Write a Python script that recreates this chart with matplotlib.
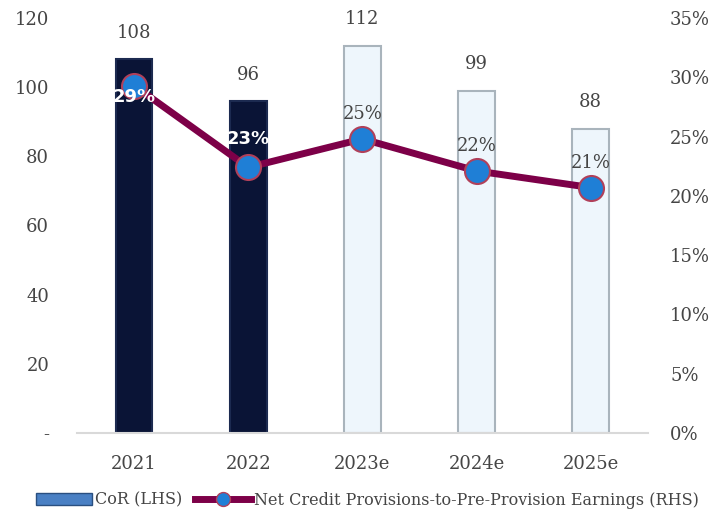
import numpy as np
import matplotlib.pyplot as plt
from matplotlib.patches import Patch
from matplotlib.lines import Line2D

years = ['2021', '2022', '2023e', '2024e', '2025e']
cor = [108, 96, 112, 99, 88]
provisions = [29.3, 22.4, 24.8, 22.1, 20.7]
prov_labels = ['29%', '23%', '25%', '22%', '21%']

plt.rcParams['font.family'] = ['DejaVu Serif']
grey = '#454545'
maroon = '#7d0048'

fig = plt.figure(figsize=(7.23, 5.14), dpi=100)
ax = fig.add_axes([0.1065, 0.1576, 0.7895, 0.8074])
ax2 = ax.twinx()

xs = np.arange(len(years))
bar_colors = ['#0a1436', '#0a1436', '#eef6fc', '#eef6fc', '#eef6fc']
edge_colors = ['#1c2a50', '#1c2a50', '#a9b4bc', '#a9b4bc', '#a9b4bc']
ax.bar(xs, cor, 0.32, color=bar_colors, edgecolor=edge_colors, linewidth=1.5)
for x, v in zip(xs, cor):
    ax.text(x, v + 5, str(v), ha='center', va='bottom', fontsize=13, color=grey)

ax.set_xlim(-0.5, 4.5)
ax.set_ylim(0, 120)
ax.set_yticks(range(0, 121, 20))
ax.set_yticklabels(['-'] + [str(v) for v in range(20, 121, 20)])
ax.set_xticks(xs)
ax.set_xticklabels(years)
ax.tick_params(axis='both', length=0, labelsize=13, colors=grey)
ax.tick_params(axis='x', pad=16)
ax.tick_params(axis='y', pad=20)

ax2.plot(xs, provisions, color=maroon, linewidth=5, marker='o', markersize=18,
         markerfacecolor='#1f7fd6', markeredgecolor='#b0405a', markeredgewidth=1.5, zorder=3)
for i, (x, v, lab) in enumerate(zip(xs, provisions, prov_labels)):
    if i == 0:
        ax2.text(x, v - 1.0, lab, ha='center', va='center', fontsize=13,
                 color='white', fontweight='bold', family='DejaVu Sans', zorder=4)
    elif i == 1:
        ax2.text(x, v + 2.4, lab, ha='center', va='center', fontsize=13,
                 color='white', fontweight='bold', family='DejaVu Sans', zorder=4)
    else:
        ax2.text(x, v + 2.1, lab, ha='center', va='center', fontsize=13, color=grey, zorder=4)
ax2.set_ylim(0, 35)
ax2.set_yticks(range(0, 36, 5))
ax2.set_yticklabels([f'{v}%' for v in range(0, 36, 5)])
ax2.tick_params(axis='y', length=0, labelsize=13, colors=grey, pad=16)

for a in (ax, ax2):
    for s in a.spines.values():
        s.set_visible(False)
ax.spines['bottom'].set_visible(True)
ax.spines['bottom'].set_color('#d9d9d9')
ax.spines['bottom'].set_linewidth(1.5)

handles = [Patch(facecolor='#4a80c4', edgecolor='#2a4f80'),
           Line2D([0], [0], color=maroon, linewidth=5, marker='o', markersize=10,
                  markerfacecolor='#1f7fd6', markeredgecolor='#b0405a')]
fig.legend(handles, ['CoR (LHS)', 'Net Credit Provisions-to-Pre-Provision Earnings (RHS)'],
           loc='center', bbox_to_anchor=(0.508, 0.027), ncol=2, frameon=False,
           fontsize=11.5, labelcolor=grey, handlelength=3.5, columnspacing=0.8,
           handletextpad=0.2)

fig.savefig('out.png', dpi=100)
